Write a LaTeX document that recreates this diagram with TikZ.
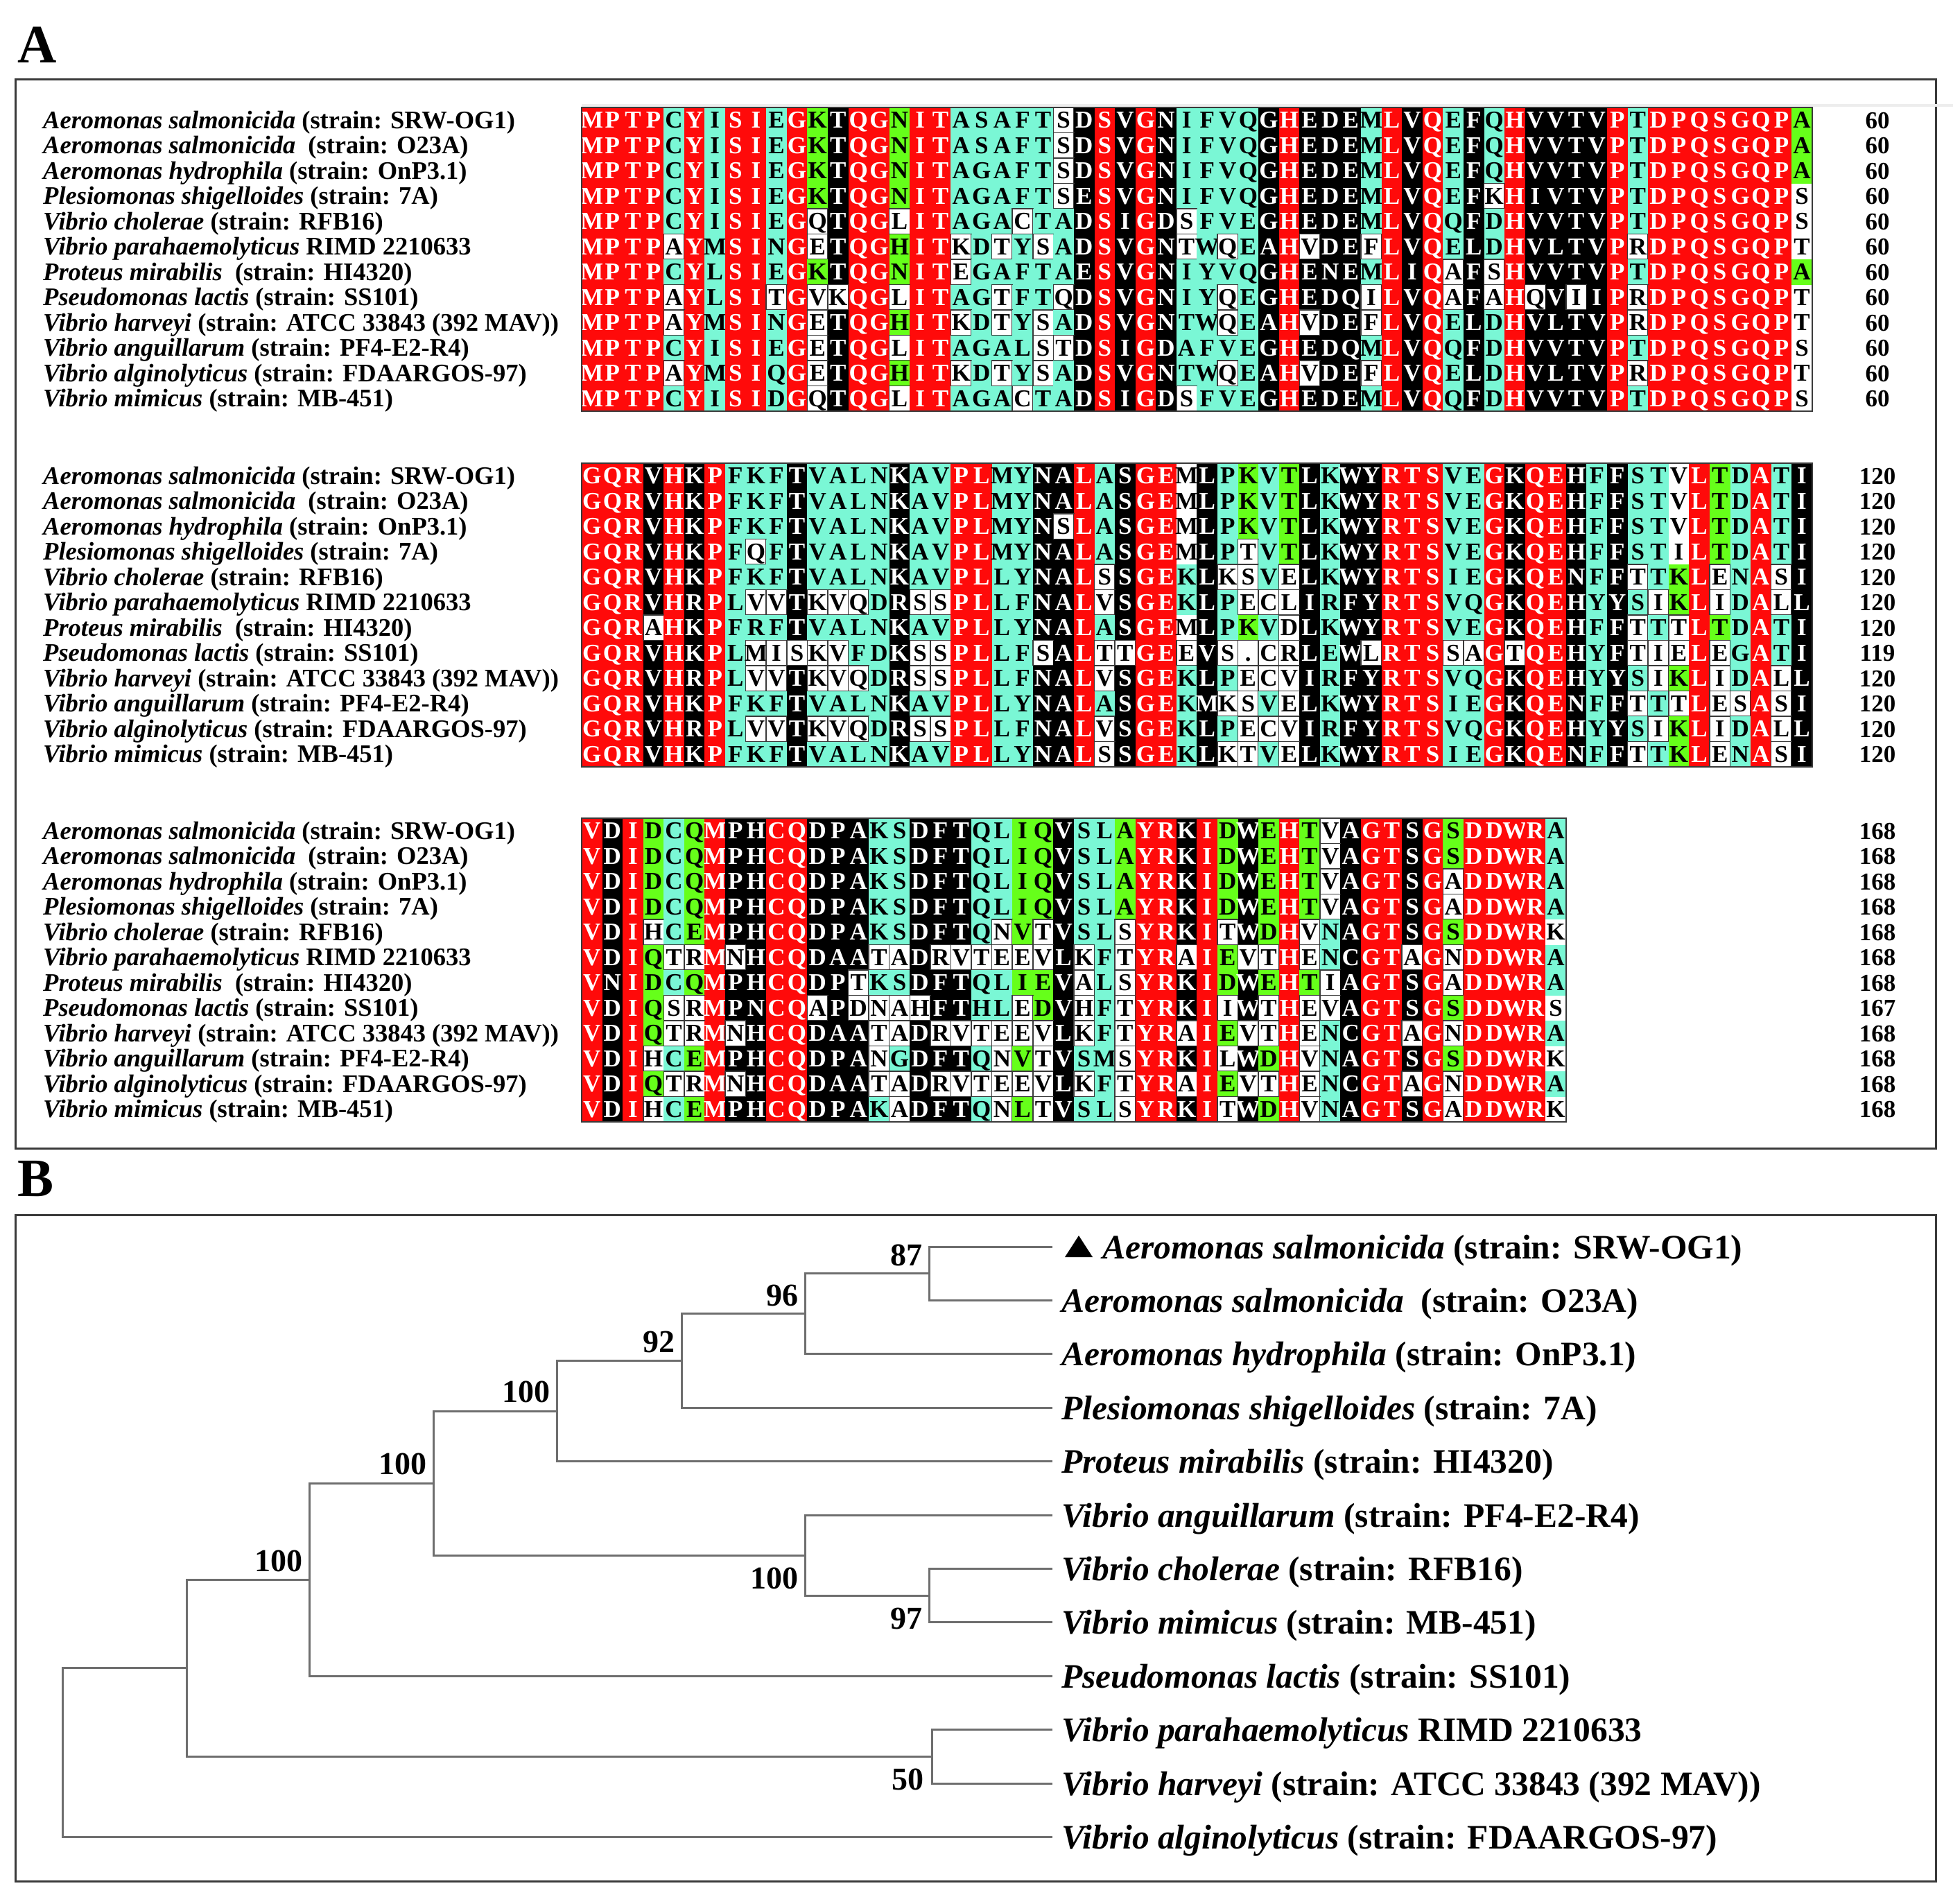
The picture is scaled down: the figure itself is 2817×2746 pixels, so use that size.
\documentclass[tikz,border=0pt]{standalone}
\usepackage{fontspec}
\setmainfont{Liberation Serif}
\definecolor{cred}{HTML}{FF0A0A}
\definecolor{ccyan}{HTML}{7AF7D5}
\definecolor{cgreen}{HTML}{66FF1A}
\definecolor{cframe}{HTML}{3A3A3A}
\definecolor{ctree}{HTML}{6E6E6E}
\newcount\ci
\def\xzero{839}
\def\cw{29.58}
\def\ch{36.5}
\expandafter\def\csname btop1\endcsname{155}
\expandafter\def\csname btop2\endcsname{668}
\expandafter\def\csname btop3\endcsname{1180}
\newcommand\spn[2]{{\itshape #1} #2}
\newcommand\alnrow[4]{%
  \def\rid{#1-#2}%
  \pgfmathsetmacro\ry{\csname btop#1\endcsname+18.25+36.5*(#2-1)}%
  \global\ci=0
  \procres#3!#4!}
\def\procres#1#2!#3#4!{%
  \alncell{#1}{#3}%
  \global\advance\ci by 1
  \ifx!#2!\else\procres#2!#4!\fi}
\def\alncell#1#2{%
  \pgfmathsetmacro\xl{\xzero+\the\ci*\cw}%
  \pgfmathsetmacro\xc{\xl+\cw/2}%
  \csname alc#2\endcsname
  \node[res,text=\restxt] (res-\rid-\the\ci) at (\xc,\ry+11.5) {#1};}
\def\alcr{\fill[cred] (\xl,\ry-18.25) rectangle ++(\cw,\ch);\def\restxt{white}}
\def\alcc{\fill[ccyan] (\xl,\ry-18.25) rectangle ++(\cw,\ch);\def\restxt{black}}
\def\alck{\fill[black] (\xl,\ry-18.25) rectangle ++(\cw,\ch);\def\restxt{white}}
\def\alcg{\fill[cgreen] (\xl,\ry-18.25) rectangle ++(\cw,\ch);\def\restxt{black}}
\def\alcw{\filldraw[fill=white,draw=cframe,line width=1.5] (\xl,\ry-18.25) rectangle ++(\cw,\ch);\def\restxt{black}}
\def\alcn{\def\restxt{black}}
\begin{document}
\begin{tikzpicture}[x=1pt,y=-1pt,
  res/.style={anchor=base,inner sep=0pt,font=\fontsize{35}{35}\selectfont\bfseries},
  alab/.style={anchor=base west,inner sep=0pt,font=\fontsize{36.5}{36.5}\selectfont\bfseries},
  nlab/.style={anchor=base,inner sep=0pt,font=\fontsize{35}{35}\selectfont\bfseries},
  tlab/.style={anchor=base west,inner sep=0pt,font=\fontsize{49.5}{49.5}\selectfont\bfseries},
  blab/.style={anchor=base east,inner sep=0pt,font=\fontsize{46}{46}\selectfont\bfseries},
  plab/.style={anchor=base west,inner sep=0pt,font=\fontsize{78}{78}\selectfont\bfseries},
  tree/.style={draw=ctree,line width=3},
  panel/.style={draw=cframe,line width=3}]
\fill[white] (0,0) rectangle (2817,2746);
\path[use as bounding box] (0,0) rectangle (2817,2746);
% panel labels and frames
\node[plab] (pA) at (25,90) {A};
\node[plab] (pB) at (25,1725) {B};
\draw[panel] (22,114) rectangle (2792,1656);
\draw[panel] (22,1752) rectangle (2792,2713);
\draw[line width=4,color=black!7] (839,152) -- (2817,152);
% ---------- block 1
\alnrow{1}{1}{MPTPCYISIEGKTQGNITASAFTSDSVGNIFVQGHEDEMLVQEFQHVVTVPTDPQSGQPA}{rrrrcrcrrcrgkrrgrrcccccwkrkrkcccckrkkkcrkrckcrkkkkrcrrrrrrrg}
\alnrow{1}{2}{MPTPCYISIEGKTQGNITASAFTSDSVGNIFVQGHEDEMLVQEFQHVVTVPTDPQSGQPA}{rrrrcrcrrcrgkrrgrrcccccwkrkrkcccckrkkkcrkrckcrkkkkrcrrrrrrrg}
\alnrow{1}{3}{MPTPCYISIEGKTQGNITAGAFTSDSVGNIFVQGHEDEMLVQEFQHVVTVPTDPQSGQPA}{rrrrcrcrrcrgkrrgrrcccccwkrkrkcccckrkkkcrkrckcrkkkkrcrrrrrrrg}
\alnrow{1}{4}{MPTPCYISIEGKTQGNITAGAFTSESVGNIFVQGHEDEMLVQEFKHIVTVPTDPQSGQPS}{rrrrcrcrrcrgkrrgrrcccccwkrkrkcccckrkkkcrkrckwrkkkkrcrrrrrrrn}
\alnrow{1}{5}{MPTPCYISIEGQTQGLITAGACTADSIGDSFVEGHEDEMLVQQFDHVVTVPTDPQSGQPS}{rrrrcrcrrcrwkrrwrrcccwcckrkrkwccckrkkkcrkrckcrkkkkrcrrrrrrrn}
\alnrow{1}{6}{MPTPAYMSINGETQGHITKDTYSADSVGNTWQEAHVDEFLVQELDHVLTVPRDPQSGQPT}{rrrrwrcrrcrwkrrgrrwcwcwckrkrkwcwckrwkkwrkrckcrkkkkrwrrrrrrrn}
\alnrow{1}{7}{MPTPCYLSIEGKTQGNITEGAFTAESVGNIYVQGHENEMLIQAFSHVVTVPTDPQSGQPA}{rrrrcrcrrcrgkrrgrrwccccckrkrkcccckrkkkcrkrwkwrkkkkrcrrrrrrrg}
\alnrow{1}{8}{MPTPAYLSITGVKQGLITAGTFTQDSVGNIYQEGHEDQILVQAFAHQVIIPRDPQSGQPT}{rrrrwrcrrwrwwrrwrrccwccwkrkrkccwckrkkkwrkrwkwrwkwkrwrrrrrrrn}
\alnrow{1}{9}{MPTPAYMSINGETQGHITKDTYSADSVGNTWQEAHVDEFLVQELDHVLTVPRDPQSGQPT}{rrrrwrcrrcrwkrrgrrwcwcwckrkrkccwckrwkkwrkrckcrkkkkrwrrrrrrrn}
\alnrow{1}{10}{MPTPCYISIEGETQGLITAGALSTDSIGDAFVEGHEDQMLVQQFDHVVTVPTDPQSGQPS}{rrrrcrcrrcrwkrrwrrccccwwkrkrkcccckrkkkcrkrckcrkkkkrcrrrrrrrn}
\alnrow{1}{11}{MPTPAYMSIQGETQGHITKDTYSADSVGNTWQEAHVDEFLVQELDHVLTVPRDPQSGQPT}{rrrrwrcrrcrwkrrgrrwcwcwckrkrkccwckrwkkwrkrckcrkkkkrwrrrrrrrn}
\alnrow{1}{12}{MPTPCYISIDGQTQGLITAGACTADSIGDSFVEGHEDEMLVQQFDHVVTVPTDPQSGQPS}{rrrrcrcrrcrwkrrwrrcccwcckrkrkwccckrkkkcrkrckcrkkkkrcrrrrrrrn}
% ---------- block 2
\alnrow{2}{1}{GQRVHKPFKFTVALNKAVPLMYNALASGEMLPKVTLKWYRTSVEGKQEHFFSTVLTDATI}{rrrkrkrccckcccckccrrcckkrckrrnkcgcgkckkrrrccrkrrkckccnrgcrck}
\alnrow{2}{2}{GQRVHKPFKFTVALNKAVPLMYNALASGEMLPKVTLKWYRTSVEGKQEHFFSTVLTDATI}{rrrkrkrccckcccckccrrcckkrckrrnkcgcgkckkrrrccrkrrkckccnrgcrck}
\alnrow{2}{3}{GQRVHKPFKFTVALNKAVPLMYNSLASGEMLPKVTLKWYRTSVEGKQEHFFSTVLTDATI}{rrrkrkrccckcccckccrrcckwrckrrnkcgcgkckkrrrccrkrrkckccnrgcrck}
\alnrow{2}{4}{GQRVHKPFQFTVALNKAVPLMYNALASGEMLPTVTLKWYRTSVEGKQEHFFSTILTDATI}{rrrkrkrcwckcccckccrrcckkrckrrnkcwcgkckkrrrccrkrrkckccnrgcrck}
\alnrow{2}{5}{GQRVHKPFKFTVALNKAVPLLYNALSSGEKLKSVELKWYRTSIEGKQENFFTTKLENASI}{rrrkrkrccckcccckccrrcckkrwkrrckwwcwkckkrrrccrkrrkckwcgrwcrwk}
\alnrow{2}{6}{GQRVHRPLVVTKVQDRSSPLLFNALVSGEKLPECLIRFYRTSVQGKQEHYYSIKLIDALL}{rrrkrkrcwwkwwwckwwrrcckkrwkrrckcwwwkckkrrrccrkrrkckcwgrwcrwk}
\alnrow{2}{7}{GQRAHKPFRFTVALNKAVPLLYNALASGEMLPKVDLKWYRTSVEGKQEHFFTTTLTDATI}{rrrwrkrccckcccckccrrcckkrckrrnkcgcwkckkrrrccrkrrkckwcwrgcrck}
\alnrow{2}{8}{GQRVHKPLMISKVFDKSSPLLFSALTTGEEVS.CRLEWLRTSSAGTQEHYFTIELEGATI}{rrrkrkrcwwwwwcckwwrrccwkrwwrrwkwwwwkckwrrrwwrwrrkckwwwrwcrck}
\alnrow{2}{9}{GQRVHRPLVVTKVQDRSSPLLFNALVSGEKLPECVIRFYRTSVQGKQEHYYSIKLIDALL}{rrrkrkrcwwkwwwckwwrrcckkrwkrrckcwwwkckkrrrccrkrrkckcwgrwcrwk}
\alnrow{2}{10}{GQRVHKPFKFTVALNKAVPLLYNALASGEKMKSVELKWYRTSIEGKQENFFTTTLESASI}{rrrkrkrccckcccckccrrcckkrckrrckwwcwkckkrrrccrkrrkckwcwrwwrwk}
\alnrow{2}{11}{GQRVHRPLVVTKVQDRSSPLLFNALVSGEKLPECVIRFYRTSVQGKQEHYYSIKLIDALL}{rrrkrkrcwwkwwwckwwrrcckkrwkrrckcwwwkckkrrrccrkrrkckcwgrwcrwk}
\alnrow{2}{12}{GQRVHKPFKFTVALNKAVPLLYNALSSGEKLKTVELKWYRTSIEGKQENFFTTKLENASI}{rrrkrkrccckcccckccrrcckkrwkrrckwwcwkckkrrrccrkrrkckwcgrwcrwk}
% ---------- block 3
\alnrow{3}{1}{VDIDCQMPHCQDPAKSDFTQLIQVSLAYRKIDWEHTVAGTSGSDDWRA}{rkrgcgrkkrrkkkcckkkccggkccgrrkrgkgrgwkrrkrgrrrrc}
\alnrow{3}{2}{VDIDCQMPHCQDPAKSDFTQLIQVSLAYRKIDWEHTVAGTSGSDDWRA}{rkrgcgrkkrrkkkcckkkccggkccgrrkrgkgrgwkrrkrgrrrrc}
\alnrow{3}{3}{VDIDCQMPHCQDPAKSDFTQLIQVSLAYRKIDWEHTVAGTSGADDWRA}{rkrgcgrkkrrkkkcckkkccggkccgrrkrgkgrgwkrrkrwrrrrc}
\alnrow{3}{4}{VDIDCQMPHCQDPAKSDFTQLIQVSLAYRKIDWEHTVAGTSGADDWRA}{rkrgcgrkkrrkkkcckkkccggkccgrrkrgkgrgwkrrkrwrrrrc}
\alnrow{3}{5}{VDIHCEMPHCQDPAKSDFTQNVTVSLSYRKITWDHVNAGTSGSDDWRK}{rkrwcgrkkrrkkkcckkkcwgwkccwrrkrwkgrwckrrkrgrrrrn}
\alnrow{3}{6}{VDIQTRMNHCQDAATADRVTEEVLKFTYRAIEVTHENCGTAGNDDWRA}{rkrgwwrwkrrkkkwwkwwwwwwkwcwrrwrgwwrwckrrwrwrrrrc}
\alnrow{3}{7}{VNIDCQMPHCQDPTKSDFTQLIEVALSYRKIDWEHTIAGTSGADDWRA}{rkrgcgrkkrrkkwcckkkccggkwcwrrkrgkgrgwkrrkrwrrrrc}
\alnrow{3}{8}{VDIQSRMPNCQAPDNAHFTHLEDVHFTYRKIIWTHEVAGTSGSDDWRS}{rkrgwwrkkrrwkwwwwkkccwgkwcwrrkrwkwrwwkrrkrgrrrrn}
\alnrow{3}{9}{VDIQTRMNHCQDAATADRVTEEVLKFTYRAIEVTHENCGTAGNDDWRA}{rkrgwwrwkrrkkkwwkwwwwwwkwcwrrwrgwwrwckrrwrwrrrrc}
\alnrow{3}{10}{VDIHCEMPHCQDPANGDFTQNVTVSMSYRKILWDHVNAGTSGSDDWRK}{rkrwcgrkkrrkkkwckkkcwgwkccwrrkrwkgrwckrrkrgrrrrn}
\alnrow{3}{11}{VDIQTRMNHCQDAATADRVTEEVLKFTYRAIEVTHENCGTAGNDDWRA}{rkrgwwrwkrrkkkwwkwwwwwwkwcwrrwrgwwrwckrrwrwrrrrc}
\alnrow{3}{12}{VDIHCEMPHCQDPAKADFTQNLTVSLSYRKITWDHVNAGTSGADDWRK}{rkrwcgrkkrrkkkcwkkkcwgwkccwrrkrwkgrwckrrkrwrrrrn}
% block frames
\draw[cframe,line width=2] (839,155) rectangle ({839+60*29.58},593);
\draw[cframe,line width=2] (839,668) rectangle ({839+60*29.58},1106);
\draw[cframe,line width=2] (839,1180) rectangle ({839+48*29.58},1618);
% species labels and numbers
\foreach \b/\top/\n/\m in {1/155/60/60,2/668/120/119,3/1180/168/167}{
  \foreach [count=\i] \lbl in {
    {\spn{Aeromonas salmonicida}{(strain: SRW-OG1)}},
    {\spn{Aeromonas salmonicida}{\ (strain: O23A)}},
    {\spn{Aeromonas hydrophila}{(strain: OnP3.1)}},
    {\spn{Plesiomonas shigelloides}{(strain: 7A)}},
    {\spn{Vibrio cholerae}{(strain: RFB16)}},
    {\spn{Vibrio parahaemolyticus}{RIMD 2210633}},
    {\spn{Proteus mirabilis}{\ (strain: HI4320)}},
    {\spn{Pseudomonas lactis}{(strain: SS101)}},
    {\spn{Vibrio harveyi}{(strain: ATCC 33843 (392 MAV))}},
    {\spn{Vibrio anguillarum}{(strain: PF4-E2-R4)}},
    {\spn{Vibrio alginolyticus}{(strain: FDAARGOS-97)}},
    {\spn{Vibrio mimicus}{(strain: MB-451)}}}{
    \pgfmathsetmacro\yy{\top+18.25+36.5*(\i-1)+12}
    \node[alab] (sp-\b-\i) at (62,\yy) {\lbl};
    \ifnum\i=8 \def\num{\m}\else\def\num{\n}\fi
    \node[nlab] (num-\b-\i) at (2708,\yy) {\num};
  }
}
% ---------- tree
\coordinate (L1) at (1518,1798);
\coordinate (L2) at (1518,1875.4);
\coordinate (L3) at (1518,1952.8);
\coordinate (L4) at (1518,2030.2);
\coordinate (L5) at (1518,2107.6);
\coordinate (L6) at (1518,2185);
\coordinate (L7) at (1518,2262.4);
\coordinate (L8) at (1518,2339.8);
\coordinate (L9) at (1518,2417.2);
\coordinate (L10) at (1518,2494.6);
\coordinate (L11) at (1518,2572);
\coordinate (L12) at (1518,2649.4);
\coordinate (n87) at (1340,1836.7);
\coordinate (n96) at (1161,1894.75);
\coordinate (n92) at (983,1962.5);
\coordinate (n100a) at (803,2035.05);
\coordinate (n97) at (1340,2301.1);
\coordinate (n100d) at (1161,2243.05);
\coordinate (n100b) at (625,2139.05);
\coordinate (n100c) at (446,2278.1);
\coordinate (n50) at (1344,2533.3);
\coordinate (nA) at (269,2405.7);
\coordinate (root) at (90,2527.55);
\draw[tree] (L1) -| (n87) |- (L2);
\draw[tree] (n87) -| (n96) |- (L3);
\draw[tree] (n96) -| (n92) |- (L4);
\draw[tree] (n92) -| (n100a) |- (L5);
\draw[tree] (L7) -| (n97) |- (L8);
\draw[tree] (L6) -| (n100d) |- (n97);
\draw[tree] (n100a) -| (n100b) |- (n100d);
\draw[tree] (n100b) -| (n100c) |- (L9);
\draw[tree] (L10) -| (n50) |- (L11);
\draw[tree] (n100c) -| (nA) |- (n50);
\draw[tree] (nA) -| (root) |- (L12);
% bootstrap values
\node[blab] (b87) at (1331,1825.7) {87};
\node[blab] (b96) at (1152,1883.75) {96};
\node[blab] (b92) at (974,1950.5) {92};
\node[blab] (b100a) at (794,2022.5) {100};
\node[blab] (b100b) at (616,2126.5) {100};
\node[blab] (b100c) at (437,2266.5) {100};
\node[blab] (b100d) at (1152,2291) {100};
\node[blab] (b97) at (1331,2349) {97};
\node[blab] (b50) at (1333,2581) {50};
% leaf labels
\fill (1536,1813) -- (1576,1813) -- (1556,1782) -- cycle;
\node[tlab] (t1) at (1590,1815) {\spn{Aeromonas salmonicida}{(strain: SRW-OG1)}};
\node[tlab] (t2) at (1531,1892.4) {\spn{Aeromonas salmonicida}{\ (strain: O23A)}};
\node[tlab] (t3) at (1531,1969.8) {\spn{Aeromonas hydrophila}{(strain: OnP3.1)}};
\node[tlab] (t4) at (1531,2047.2) {\spn{Plesiomonas shigelloides}{(strain: 7A)}};
\node[tlab] (t5) at (1531,2124.6) {\spn{Proteus mirabilis}{(strain: HI4320)}};
\node[tlab] (t6) at (1531,2202) {\spn{Vibrio anguillarum}{(strain: PF4-E2-R4)}};
\node[tlab] (t7) at (1531,2279.4) {\spn{Vibrio cholerae}{(strain: RFB16)}};
\node[tlab] (t8) at (1531,2356.8) {\spn{Vibrio mimicus}{(strain: MB-451)}};
\node[tlab] (t9) at (1531,2434.2) {\spn{Pseudomonas lactis}{(strain: SS101)}};
\node[tlab] (t10) at (1531,2511.6) {\spn{Vibrio parahaemolyticus}{RIMD 2210633}};
\node[tlab] (t11) at (1531,2589) {\spn{Vibrio harveyi}{(strain: ATCC 33843 (392 MAV))}};
\node[tlab] (t12) at (1531,2666.4) {\spn{Vibrio alginolyticus}{(strain: FDAARGOS-97)}};
\end{tikzpicture}
\end{document}
